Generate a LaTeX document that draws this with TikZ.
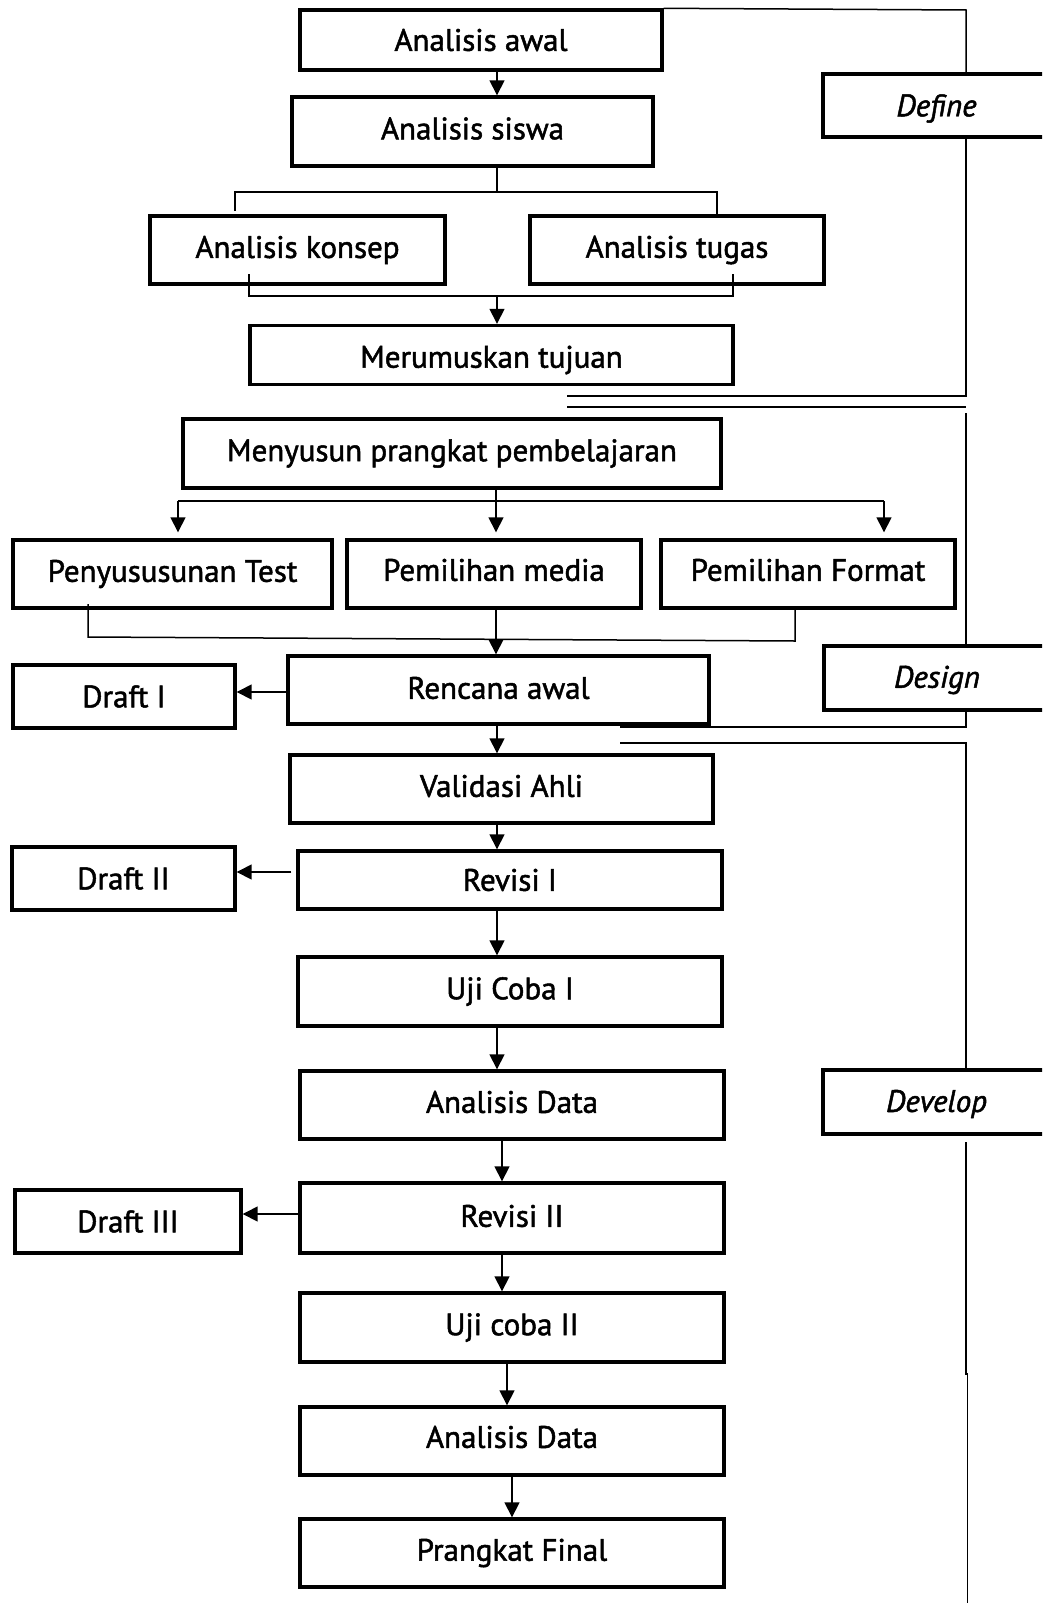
\documentclass[tikz,border=0pt]{standalone}
\usepackage{fontspec}
\setmainfont{PT Sans}[FakeBold=1.6]
\usetikzlibrary{arrows.meta}
\newcommand{\mvtxt}[2]{\raisebox{#1}[\height][\depth]{#2}}
\begin{document}
\begin{tikzpicture}[x=1pt,y=-1pt,
  box/.style={draw, line width=3.4pt, rectangle, inner sep=0pt, align=center,
    font=\fontsize{31}{34}\selectfont},
  side/.style={box, font=\fontsize{31}{34}\selectfont\itshape},
  ln/.style={line width=1.5pt},
  arr/.style={line width=1.5pt, -{Triangle[length=15pt,width=15pt]}},
]
\useasboundingbox (0,0) rectangle (1042,1603);
\clip (0,0) rectangle (1042,1603);
% ---------- boxes ----------
\node[box, minimum width=362pt, minimum height=60pt] (aw) at (481,40) {Analisis awal};
\node[box, minimum width=361pt, minimum height=69pt] (as) at (472.5,131.5) {\mvtxt{3pt}{Analisis siswa}};
\node[box, minimum width=295pt, minimum height=68pt] (ak) at (297.5,250) {Analisis konsep};
\node[box, minimum width=294pt, minimum height=68pt] (at) at (677,250) {Analisis tugas};
\node[box, minimum width=483pt, minimum height=59pt] (mt) at (491.5,355) {\mvtxt{-5pt}{Merumuskan tujuan}};
\node[side, minimum width=227pt, minimum height=63pt] (def) at (936.5,105.5) {\mvtxt{-3pt}{Define}};
\node[box, minimum width=538pt, minimum height=69pt] (mp) at (452,453.5) {Menyusun prangkat pembelajaran};
\node[box, minimum width=319pt, minimum height=68pt] (pt) at (172.5,574) {Penyususunan Test};
\node[box, minimum width=294pt, minimum height=68pt] (pm) at (494,574) {\mvtxt{4pt}{Pemilihan media}};
\node[box, minimum width=294pt, minimum height=68pt] (pf) at (808,574) {\mvtxt{4pt}{Pemilihan Format}};
\node[box, minimum width=421pt, minimum height=68pt] (ra) at (498.5,690) {\mvtxt{2pt}{Rencana awal}};
\node[box, minimum width=222pt, minimum height=63pt] (d1) at (124,696.5) {Draft I};
\node[side, minimum width=226pt, minimum height=64pt] (des) at (937,678) {\mvtxt{-2pt}{Design}};
\node[box, minimum width=423pt, minimum height=68pt] (va) at (501.5,789) {\mvtxt{3pt}{Validasi Ahli}};
\node[box, minimum width=424pt, minimum height=58pt] (r1) at (510,880) {Revisi I};
\node[box, minimum width=223pt, minimum height=63pt] (d2) at (123.5,878.5) {Draft II};
\node[box, minimum width=424pt, minimum height=69pt] (u1) at (510,991.5) {Uji Coba I};
\node[box, minimum width=424pt, minimum height=68pt] (ad1) at (512,1105) {\mvtxt{3pt}{Analisis Data}};
\node[side, minimum width=227pt, minimum height=64pt] (dev) at (936.5,1102) {\mvtxt{-2pt}{Develop}};
\node[box, minimum width=424pt, minimum height=70pt] (r2) at (512,1218) {\mvtxt{2pt}{Revisi II}};
\node[box, minimum width=226pt, minimum height=63pt] (d3) at (128,1221.5) {Draft III};
\node[box, minimum width=424pt, minimum height=69pt] (u2) at (512,1327.5) {Uji coba II};
\node[box, minimum width=424pt, minimum height=68pt] (ad2) at (512,1441) {\mvtxt{4pt}{Analisis Data}};
\node[box, minimum width=424pt, minimum height=68pt] (pf2) at (512,1553) {Prangkat Final};
% ---------- helper coordinates ----------
\coordinate (xA) at (497,0);
\coordinate (xB) at (502,0);
\coordinate (xC) at (507,0);
\coordinate (xD) at (512,0);
\coordinate (xM) at (496,0);
\coordinate (xR) at (966,0);
\coordinate (j1) at (497,192);
\coordinate (j1l) at (235,192);
\coordinate (j1r) at (717,192);
\coordinate (j1le) at (235,211);
\coordinate (k1) at (249,274);
\coordinate (k2) at (249,296);
\coordinate (k3) at (733,296);
\coordinate (k4) at (733,274);
\coordinate (j2) at (496,501);
\coordinate (j2l) at (178,501);
\coordinate (j2r) at (884,501);
\coordinate (m1) at (88,604);
\coordinate (m2) at (88,637);
\coordinate (m3) at (795,641);
\coordinate (m4) at (795,609);
\coordinate (mj) at (496,639);
% bracket coordinates
\coordinate (b1) at (966,10);
\coordinate (b2) at (966,396);
\coordinate (b3) at (567,396);
\coordinate (b4) at (567,407);
\coordinate (b5) at (966,407);
\coordinate (b6) at (966,413);
\coordinate (b7) at (966,727);
\coordinate (b8) at (620,727);
\coordinate (b9) at (620,743);
\coordinate (b10) at (966,743);
\coordinate (b11) at (966,1142);
\coordinate (b12) at (966,1374);
\coordinate (b13) at (967.5,1374);
\coordinate (b14) at (967.5,1603);
% ---------- define part ----------
\draw[arr] (aw.south -| xA) -- (as.north -| xA);
\draw[ln] (as.south -| xA) -- (j1);
\draw[ln] (j1le) -- (j1l) -- (j1r) -- (at.north -| j1r);
\draw[ln] (k1) -- (k2) -- (k3) -- (k4);
\draw[arr] (k2 -| xA) -- (mt.north -| xA);
% ---------- design part ----------
\draw[ln] (mp.south -| xM) -- (j2);
\draw[ln] (j2l) -- (j2r);
\draw[arr, shorten >=6pt] (j2l) -- (pt.north -| j2l);
\draw[arr, shorten >=6pt] (j2) -- (pm.north -| j2);
\draw[arr, shorten >=6pt] (j2r) -- (pf.north -| j2r);
\draw[ln] (m1) -- (m2) -- (m3) -- (m4);
\draw[ln] (pm.south -| xM) -- (mj);
\draw[arr] (mj) -- (ra.north -| xM);
\draw[arr] (ra.west |- 0,692) -- (d1.east |- 0,692);
% ---------- develop part ----------
\draw[arr] (ra.south -| xA) -- (va.north -| xA);
\draw[arr] (va.south -| xA) -- (r1.north -| xA);
\draw[arr, shorten <=5pt] (r1.west |- 0,872) -- (d2.east |- 0,872);
\draw[arr] (r1.south -| xA) -- (u1.north -| xA);
\draw[arr] (u1.south -| xA) -- (ad1.north -| xA);
\draw[arr] (ad1.south -| xB) -- (r2.north -| xB);
\draw[arr] (r2.west |- 0,1214) -- (d3.east |- 0,1214);
\draw[arr] (r2.south -| xB) -- (u2.north -| xB);
\draw[arr] (u2.south -| xC) -- (ad2.north -| xC);
\draw[arr] (ad2.south -| xD) -- (pf2.north -| xD);
% ---------- phase brackets ----------
\draw[ln] (aw.north east) -- (b1) -- (def.north -| xR);
\draw[ln] (def.south -| xR) -- (b2) -- (b3);
\draw[ln] (b4) -- (b5);
\draw[ln] (b6) -- (des.north -| xR);
\draw[ln] (des.south -| xR) -- (b7) -- (b8);
\draw[ln] (b9) -- (b10) -- (dev.north -| xR);
\draw[ln] (b11) -- (b12) -- (b13) -- (b14);
\end{tikzpicture}
\end{document}
